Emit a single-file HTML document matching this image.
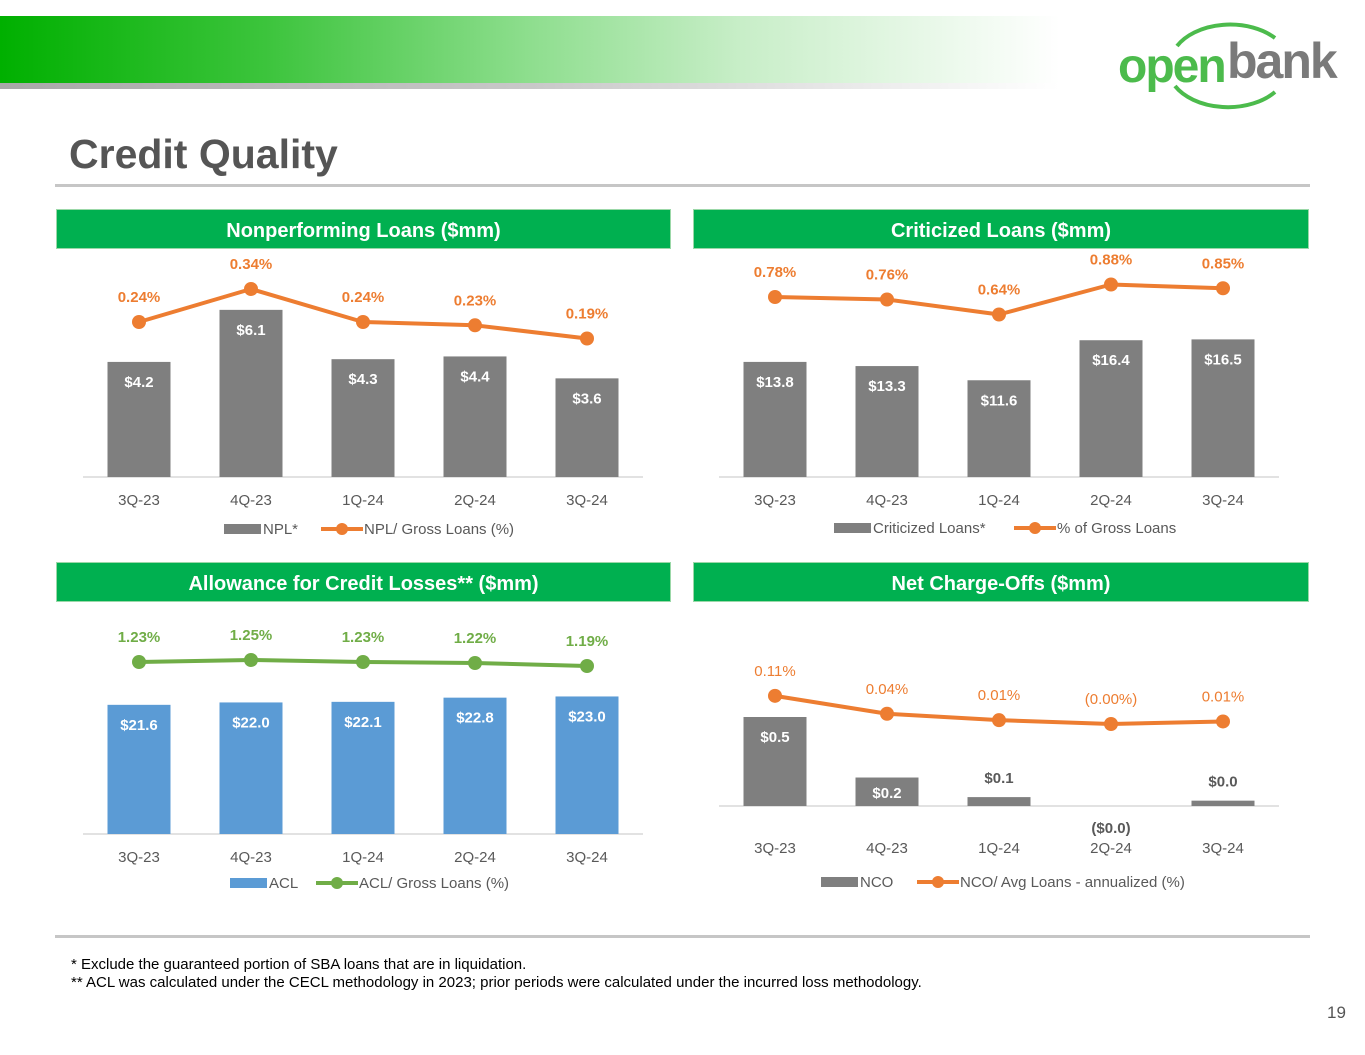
<!DOCTYPE html>
<html><head><meta charset="utf-8"><style>
html,body{margin:0;padding:0;background:#fff;}
body{width:1365px;height:1055px;position:relative;overflow:hidden;font-family:"Liberation Sans",sans-serif;}
.abs{position:absolute;}
.hdr{position:absolute;height:40px;background:#00b050;color:#fff;font-weight:bold;font-size:20px;line-height:42px;text-align:center;border:1px solid #9bd8a8;box-sizing:border-box;}
</style></head><body>
<div class="abs" style="left:0;top:16px;width:1060px;height:67px;background:linear-gradient(90deg,#00b000 0%,#3cc43c 25%,#8ede8e 50%,#c8eec8 70%,#ffffff 100%);"></div>
<div class="abs" style="left:0;top:83px;width:1060px;height:6px;background:linear-gradient(90deg,#a8a8a8 0%,#c8c8c8 50%,#ffffff 100%);"></div>
<div class="abs" style="left:1115px;top:20px;width:250px;height:92px;">
<svg width="250" height="92"><path d="M62 26 A60 40 0 0 1 160 18" stroke="#4cbb4c" stroke-width="4" fill="none"/><path d="M60 66 A60 40 0 0 0 160 72" stroke="#4cbb4c" stroke-width="4" fill="none"/>
<text x="3" y="62" font-family="Liberation Sans" font-weight="bold" font-size="48" fill="#4cbb4c" letter-spacing="-2">open</text>
<text x="112" y="58" font-family="Liberation Sans" font-weight="bold" font-size="50" fill="#7a7a7a" letter-spacing="-2">bank</text></svg></div>
<div class="abs" style="left:69px;top:131px;font-size:41px;font-weight:bold;color:#555;">Credit Quality</div>
<div class="abs" style="left:55px;top:184px;width:1255px;height:3px;background:#c6c6c6;"></div>
<div class="hdr" style="left:56px;top:209px;width:615px;">Nonperforming Loans ($mm)</div>
<div class="hdr" style="left:693px;top:209px;width:616px;">Criticized Loans ($mm)</div>
<div class="hdr" style="left:56px;top:562px;width:615px;">Allowance for Credit Losses** ($mm)</div>
<div class="hdr" style="left:693px;top:562px;width:616px;">Net Charge-Offs ($mm)</div>
<svg class="abs" id="charts" style="left:0;top:0;" width="1365" height="1055" font-family="Liberation Sans, sans-serif"></svg>
<div class="abs" style="left:55px;top:935px;width:1255px;height:3px;background:#c6c6c6;"></div>
<div class="abs" style="left:71px;top:956px;font-size:15px;color:#000;">* Exclude the guaranteed portion of SBA loans that are in liquidation.</div>
<div class="abs" style="left:71px;top:974px;font-size:15px;color:#000;">** ACL was calculated under the CECL methodology in 2023; prior periods were calculated under the incurred loss methodology.</div>
<div class="abs" style="left:1327px;top:1003px;font-size:17px;color:#555;">19</div>
<script>
const categories = ["3Q-23","4Q-23","1Q-24","2Q-24","3Q-24"];
const nplValues = [4.2,6.1,4.3,4.4,3.6];
const nplLabels = ["$4.2","$6.1","$4.3","$4.4","$3.6"];
const nplPct = [0.24,0.34,0.24,0.23,0.19];
const nplPctLabels = ["0.24%","0.34%","0.24%","0.23%","0.19%"];
const critValues = [13.8,13.3,11.6,16.4,16.5];
const critLabels = ["$13.8","$13.3","$11.6","$16.4","$16.5"];
const critPct = [0.78,0.76,0.64,0.88,0.85];
const critPctLabels = ["0.78%","0.76%","0.64%","0.88%","0.85%"];
const aclValues = [21.6,22.0,22.1,22.8,23.0];
const aclLabels = ["$21.6","$22.0","$22.1","$22.8","$23.0"];
const aclPct = [1.23,1.25,1.23,1.22,1.19];
const aclPctLabels = ["1.23%","1.25%","1.23%","1.22%","1.19%"];
const ncoValues = [0.5,0.16,0.05,0.0,0.03];
const ncoLabels = ["$0.5","$0.2","$0.1","($0.0)","$0.0"];
const ncoPct = [0.11,0.04,0.015,0.0,0.01];
const ncoPctLabels = ["0.11%","0.04%","0.01%","(0.00%)","0.01%"];

const svg = document.getElementById('charts');
const NS = 'http://www.w3.org/2000/svg';
function mk(tag, attrs, text){const e=document.createElementNS(NS,tag);for(const k in attrs)e.setAttribute(k,attrs[k]);if(text!==undefined)e.textContent=text;svg.appendChild(e);return e;}

function chart(c){
  const x = i => c.x0 + i*112;
  const yl = v => c.lref - (v - c.lv)*c.ls;
  const ax = mk('line',{x1:c.x0-56,x2:c.x0+4*112+56,y1:c.base,y2:c.base,stroke:'#d9d9d9','stroke-width':1.5});
  
  
  c.vals.forEach((v,i)=>{
    const h = Math.max(0, v*c.bs);
    const r = mk('rect',{x:x(i)-31.5,y:c.base-h,width:63,height:h,fill:c.barColor});
    
    
    const inside = h > 24;
    const ty = inside ? (h > 40 ? c.base-h+25 : c.base-h/2+6) : (v<=0 ? c.base+27 : c.base-h-14);
    const t = mk('text',{x:x(i),y:ty,'text-anchor':'middle','font-size':15,'font-weight':'bold',fill:inside?'#fff':'#595959'},c.labels[i]);
    
    
    const cat = mk('text',{x:x(i),y:c.catY,'text-anchor':'middle','font-size':15,fill:'#595959'},categories[i]);
    
    
  });
  const pts = c.pct.map((v,i)=>x(i)+','+yl(v)).join(' ');
  const pl = mk('polyline',{points:pts,fill:'none',stroke:c.lineColor,'stroke-width':4,'stroke-linejoin':'round'});
  
  
  c.pct.forEach((v,i)=>{
    const m = mk('circle',{cx:x(i),cy:yl(v),r:7,fill:c.lineColor});
    
    
    const t = mk('text',{x:x(i),y:yl(v)-20,'text-anchor':'middle','font-size':15,'font-weight':c.pctBold?'bold':'normal',fill:c.lineColor},c.pctLabels[i]);
    
    
  });
  const lx = c.legX;
  const lr = mk('rect',{x:lx,y:c.legY-10,width:37,height:10,fill:c.barColor});
  
  
  const lt = mk('text',{x:lx+39,y:c.legY,'font-size':15,fill:'#595959'},c.legBar);
  
  
  const l2 = c.legX2;
  const ll = mk('line',{x1:l2,x2:l2+42,y1:c.legY-5,y2:c.legY-5,stroke:c.lineColor,'stroke-width':4});
  
  
  const lc = mk('circle',{cx:l2+21,cy:c.legY-5,r:6,fill:c.lineColor});
  
  
  const lt2 = mk('text',{x:l2+43,y:c.legY,'font-size':15,fill:'#595959'},c.legLine);
  
  
}
chart({id:'npl',x0:139,base:477,bs:27.4,vals:nplValues,labels:nplLabels,pct:nplPct,pctLabels:nplPctLabels,lv:0.24,lref:322,ls:330,barColor:'#7f7f7f',lineColor:'#ed7d31',pctBold:true,catY:505,legY:534,legX:224,legX2:321,legBar:'NPL*',legLine:'NPL/ Gross Loans (%)'});
chart({id:'criticized',x0:775,base:477,bs:8.34,vals:critValues,labels:critLabels,pct:critPct,pctLabels:critPctLabels,lv:0.78,lref:297,ls:125,barColor:'#7f7f7f',lineColor:'#ed7d31',pctBold:true,catY:505,legY:533,legX:834,legX2:1014,legBar:'Criticized Loans*',legLine:'% of Gross Loans'});
chart({id:'acl',x0:139,base:834,bs:5.98,vals:aclValues,labels:aclLabels,pct:aclPct,pctLabels:aclPctLabels,lv:1.23,lref:662,ls:100,barColor:'#5b9bd5',lineColor:'#70ad47',pctBold:true,catY:862,legY:888,legX:230,legX2:316,legBar:'ACL',legLine:'ACL/ Gross Loans (%)'});
chart({id:'nco',x0:775,base:806,bs:178,vals:ncoValues,labels:ncoLabels,pct:ncoPct,pctLabels:ncoPctLabels,lv:0,lref:724,ls:256,barColor:'#7f7f7f',lineColor:'#ed7d31',pctBold:false,catY:853,legY:887,legX:821,legX2:917,legBar:'NCO',legLine:'NCO/ Avg Loans - annualized (%)'});
</script>
</body></html>
